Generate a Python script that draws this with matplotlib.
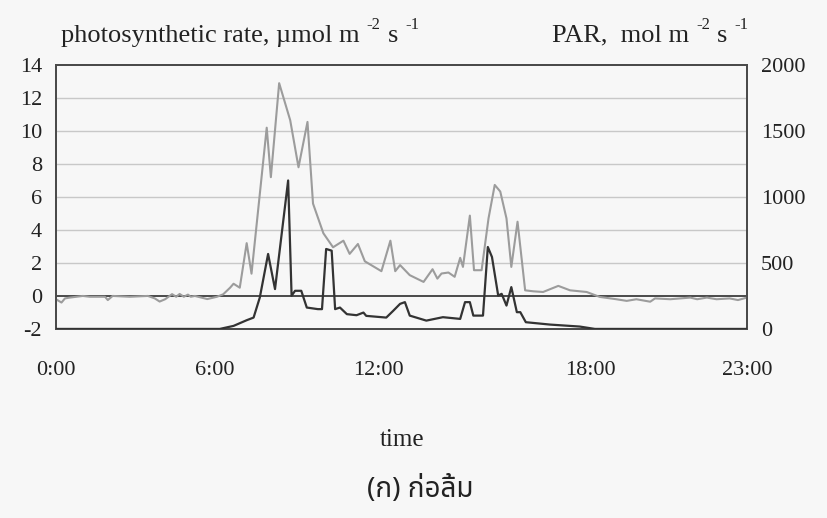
import matplotlib
matplotlib.use("Agg")
import matplotlib.pyplot as plt

# position along the record (0 = 0:00, 100 = 23:00) and photosynthetic rate
pn_pos = [0, 0.8, 1.3, 2.0, 3.9, 4.9, 7.1, 7.5, 8.2, 10.7, 13.3, 14.3, 15.0,
          15.8, 16.8, 17.4, 17.9, 18.5, 19.1, 19.5, 20.1, 21.9, 23.3, 24.2,
          25.2, 25.7, 26.6, 27.6, 28.3, 30.5, 31.1, 32.3, 33.9, 35.1, 36.4,
          37.2, 38.7, 40.1, 41.6, 42.5, 43.7, 44.7, 47.1, 48.4, 49.1, 49.8,
          51.2, 53.2, 54.5, 55.2, 55.8, 56.8, 57.7, 58.5, 58.9, 59.9, 60.5,
          61.6, 62.6, 63.5, 64.3, 65.2, 65.9, 66.8, 67.9, 69.1, 70.5, 72.7,
          74.4, 76.8, 78.7, 81.1, 82.6, 84.0, 86.0, 86.7, 88.9, 91.8, 92.8,
          94.2, 95.6, 97.5, 98.7, 100]
pn_rate = [-0.2, -0.4, -0.15, -0.1, 0.0, -0.05, -0.05, -0.25, 0.0, -0.05,
           0.0, -0.15, -0.34, -0.2, 0.11, -0.05, 0.12, -0.05, 0.08, -0.05,
           0.0, -0.19, -0.05, 0.1, 0.5, 0.74, 0.5, 3.2, 1.35, 10.2, 7.2,
           12.9, 10.65, 7.8, 10.55, 5.6, 3.8, 2.95, 3.35, 2.55, 3.15, 2.1,
           1.5, 3.35, 1.5, 1.87, 1.26, 0.85, 1.62, 1.05, 1.36, 1.42, 1.16,
           2.31, 1.76, 4.87, 1.56, 1.56, 4.7, 6.73, 6.33, 4.7, 1.76, 4.5,
           0.34, 0.28, 0.24, 0.61, 0.34, 0.24, -0.06, -0.2, -0.3, -0.2,
           -0.35, -0.15, -0.2, -0.1, -0.2, -0.1, -0.2, -0.15, -0.25, -0.1]

# PAR on the same positions scale
par_pos = [0, 23.7, 25.7, 27.6, 28.6, 29.5, 30.7, 31.7, 33.6, 34.1, 34.6,
           35.5, 36.3, 37.9, 38.5, 39.1, 39.9, 40.4, 41.1, 42.1, 43.5, 44.5,
           44.9, 47.8, 48.8, 49.8, 50.5, 51.2, 53.6, 56.0, 58.5, 59.2, 59.9,
           60.4, 61.8, 62.5, 63.1, 64.0, 64.5, 65.2, 65.9, 66.7, 67.2, 68.0,
           71.5, 75.8, 78.0, 100]
par = [0, 0, 23, 66, 86, 238, 568, 302, 1125, 251, 289, 289, 162, 150, 150,
       606, 593, 150, 162, 112, 104, 124, 99, 86, 137, 190, 203, 101, 63, 89,
       76, 203, 203, 101, 101, 621, 545, 253, 266, 177, 317, 127, 127, 51,
       33, 18, 0, 0]

tick_pos = [0, 23.0, 46.6, 77.3, 100]
tick_labels = ['0:00', '6:00', '12:00', '18:00', '23:00']

plt.rcParams['font.family'] = ['Liberation Serif', 'DejaVu Serif']
plt.rcParams['axes.unicode_minus'] = False

bg = '#f7f7f7'
ink = '#222222'
fig = plt.figure(figsize=(8.28, 5.18), dpi=100, facecolor=bg)
ax = fig.add_axes([0.0676, 0.365, 0.8345, 0.5095], facecolor=bg)

# left axis: photosynthetic rate
ax.set_xlim(0, 100)
ax.set_ylim(-2, 14)
ax.set_yticks(range(-2, 15, 2))
for g in range(2, 14, 2):
    ax.axhline(g, color='#c8c8c8', lw=1.0, zorder=1)
ax.axhline(0, color='#4a4a4a', lw=1.4, zorder=2)
ax.plot(pn_pos, pn_rate, color='#9c9c9c', lw=1.5, zorder=3)

ax.set_xticks(tick_pos)
ax.set_xticklabels(tick_labels)
ax.tick_params(axis='x', length=0, pad=23, labelsize=16, colors=ink)
ax.tick_params(axis='y', length=0, pad=10, labelsize=16, colors=ink)

# right axis: PAR
ax2 = ax.twinx()
ax2.set_ylim(0, 2000)
ax2.set_yticks([0, 500, 1000, 1500, 2000])
ax2.plot(par_pos, par, color='#333333', lw=1.6, zorder=4)
ax2.tick_params(axis='y', length=0, pad=10, labelsize=16, colors=ink)

for a in (ax, ax2):
    for s in a.spines.values():
        s.set_color('#4a4a4a')
        s.set_linewidth(1.3)


def unit_title(x, y, parts):
    # parts: list of (text, is_superscript); superscripts get a hyphen, not a minus
    first = fig.text(x, y, parts[0][0], fontsize=19, color=ink,
                     ha='left', va='bottom')
    prev = first
    for txt, sup in parts[1:]:
        prev = ax.annotate(txt, xy=(1, 0), xycoords=(prev, first),
                           xytext=(5, 10 if sup else 0),
                           textcoords='offset points',
                           fontsize=12 if sup else 19, color=ink,
                           ha='left', va='bottom', annotation_clip=False)


unit_title(0.074, 0.91, [(u'photosynthetic rate, \u00b5mol m', False),
                         ('-2', True), ('s', False), ('-1', True)])
unit_title(0.667, 0.91, [('PAR,  mol m', False),
                         ('-2', True), ('s', False), ('-1', True)])

fig.text(0.485, 0.151, 'time', fontsize=18, ha='center', va='center',
         color=ink)
fig.text(0.508, 0.055, u'(\u0e01) \u0e01\u0e48\u0e2d\u0e25\u0e34\u0e49\u0e21',
         fontsize=20, ha='center', va='center', color=ink,
         family=['Noto Sans Thai', 'Sarabun', 'DejaVu Sans'])

fig.savefig('out.png', dpi=100, facecolor=bg)
